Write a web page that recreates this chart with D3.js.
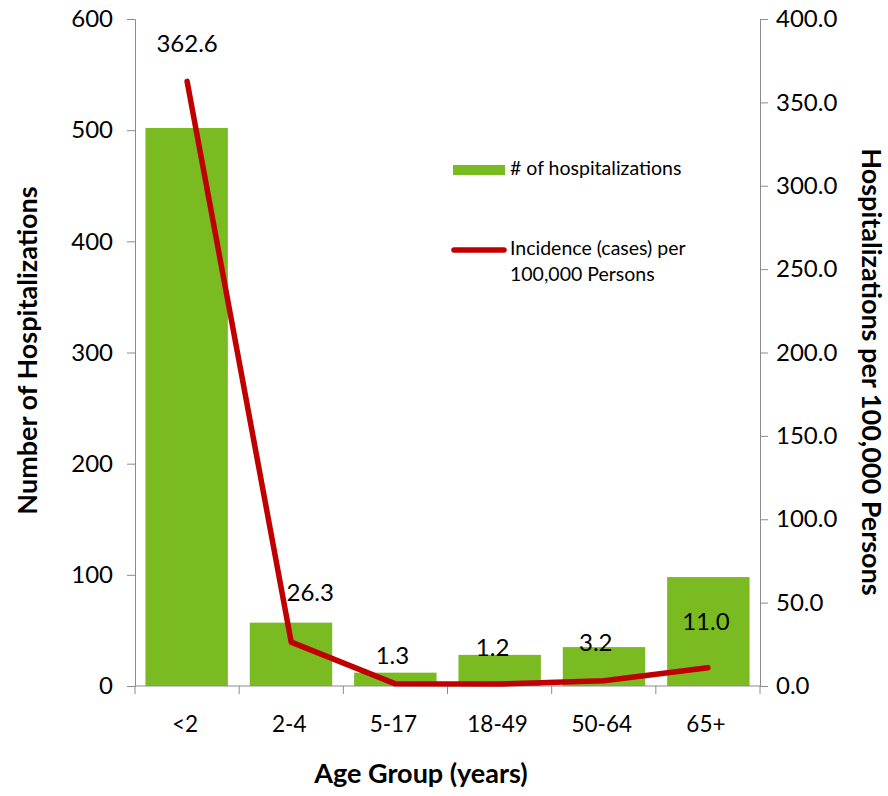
<!DOCTYPE html>
<html lang="en">
<head>
<meta charset="UTF-8">
<title>Hospitalizations by Age Group</title>
<script src="https://d3js.org/d3.v7.min.js"></script>
<style>
    body { margin: 0; background: #fff; font-family: Lato, "Open Sans", sans-serif; }
    .tick text { font-family: Lato, sans-serif; font-size: 24px; fill: #000; }
    .axis path, .axis line { stroke: #8c8c8c; }
    .title { font-family: Lato, sans-serif; font-weight: bold; font-size: 27px; }
    .lbl { font-family: Lato, sans-serif; font-size: 24px; }
    .cat { font-family: Lato, sans-serif; font-size: 22.5px; }
    .legend text { font-family: Lato, sans-serif; font-size: 19.5px; }
</style>
</head>
<body>
<div id="chart"></div>
<script>
    const ageGroups = ["<2", "2-4", "5-17", "18-49", "50-64", "65+"];
    const hospitalizations = [502, 57, 12, 28, 35, 98];
    const incidence = [362.6, 26.3, 1.3, 1.2, 3.2, 11.0];
    const leftTicks = [0, 100, 200, 300, 400, 500, 600];
    const rightTicks = [0, 50, 100, 150, 200, 250, 300, 350, 400];

    // where each value label sits relative to its line point (px)
    const labelNudge = [[0, -35], [19, -47], [-3, -26], [-7, -34], [-8, -36], [-2, -44]];

    const W = 888, H = 796;
    const margin = { top: 19, right: 128, bottom: 110, left: 135 };
    const width = W - margin.left - margin.right;
    const height = H - margin.top - margin.bottom;

    const svg = d3.select("#chart").append("svg")
        .attr("width", W).attr("height", H)
        .append("g")
        .attr("transform", `translate(${margin.left},${margin.top})`);

    const x = d3.scaleBand().domain(ageGroups).range([0, width]).paddingInner(0.21).paddingOuter(0.1);
    const xOuter = d3.scaleBand().domain(ageGroups).range([0, width]);
    const yL = d3.scaleLinear().domain([0, 600]).range([height, 0]);
    const yR = d3.scaleLinear().domain([0, 400]).range([height, 0]);

    // bars
    svg.selectAll("rect.bar")
        .data(ageGroups)
        .enter().append("rect")
        .attr("class", "bar")
        .attr("x", d => x(d))
        .attr("width", x.bandwidth())
        .attr("y", (d, i) => yL(hospitalizations[i]))
        .attr("height", (d, i) => height - yL(hospitalizations[i]))
        .attr("fill", "#7bbb22");

    // axes
    svg.append("g").attr("class", "axis")
        .call(d3.axisLeft(yL).tickValues(leftTicks).tickSize(8).tickSizeOuter(8).tickPadding(14));
    svg.append("g").attr("class", "axis")
        .attr("transform", `translate(${width},0)`)
        .call(d3.axisRight(yR).tickValues(rightTicks).tickFormat(d3.format(".1f")).tickSize(8).tickSizeOuter(8).tickPadding(8));

    const bottom = svg.append("g").attr("class", "axis")
        .attr("transform", `translate(0,${height})`);
    bottom.append("line").attr("x1", 0).attr("x2", width).attr("stroke", "#8c8c8c");
    bottom.selectAll("line.sep")
        .data(ageGroups.concat(["end"]))
        .enter().append("line")
        .attr("class", "sep")
        .attr("x1", (d, i) => i < ageGroups.length ? xOuter(d) : width)
        .attr("x2", (d, i) => i < ageGroups.length ? xOuter(d) : width)
        .attr("y1", 0).attr("y2", 8)
        .attr("stroke", "#8c8c8c");
    bottom.selectAll("text")
        .data(ageGroups)
        .enter().append("text")
        .attr("class", "cat")
        .attr("x", d => xOuter(d) + xOuter.bandwidth() / 2 - 2)
        .attr("y", 46)
        .attr("text-anchor", "middle")
        .text(d => d);

    // line
    const pts = ageGroups.map((d, i) => [xOuter(d) + xOuter.bandwidth() / 2, yR(incidence[i])]);
    svg.append("path")
        .datum(pts)
        .attr("d", d3.line())
        .attr("fill", "none")
        .attr("stroke", "#c00000")
        .attr("stroke-width", 5.5)
        .attr("stroke-linecap", "round")
        .attr("stroke-linejoin", "round");

    svg.selectAll("text.val")
        .data(incidence)
        .enter().append("text")
        .attr("class", "lbl val")
        .attr("x", (d, i) => pts[i][0] + labelNudge[i][0])
        .attr("y", (d, i) => pts[i][1] + labelNudge[i][1])
        .attr("text-anchor", "middle")
        .attr("dominant-baseline", "middle")
        .text(d => d3.format(".1f")(d));

    // axis titles
    svg.append("text").attr("class", "title")
        .attr("transform", `translate(${30 - margin.left},${height / 2 - 2}) rotate(-90)`)
        .attr("text-anchor", "middle").attr("dominant-baseline", "middle")
        .text("Number of Hospitalizations");
    svg.append("text").attr("class", "title")
        .attr("transform", `translate(${width + 109},${353}) rotate(90)`)
        .attr("text-anchor", "middle").attr("dominant-baseline", "middle")
        .text("Hospitalizations per 100,000 Persons");
    svg.append("text").attr("class", "title")
        .attr("x", 421 - margin.left)
        .attr("y", height + 97)
        .attr("text-anchor", "middle")
        .text("Age Group (years)");

    // legend
    const lg = svg.append("g").attr("class", "legend")
        .attr("transform", `translate(${452 - margin.left},${170 - margin.top})`);
    lg.append("rect").attr("x", 1).attr("y", -5).attr("width", 52).attr("height", 10).attr("fill", "#7bbb22");
    lg.append("text").attr("x", 58).attr("y", 0).attr("dominant-baseline", "middle").text("# of hospitalizations");
    lg.append("line").attr("x1", 2).attr("x2", 52).attr("y1", 80).attr("y2", 80)
        .attr("stroke", "#c00000").attr("stroke-width", 5.5).attr("stroke-linecap", "round");
    lg.append("text").attr("x", 58).attr("y", 80).attr("dominant-baseline", "middle").text("Incidence (cases) per");
    lg.append("text").attr("x", 58).attr("y", 106).attr("dominant-baseline", "middle").text("100,000 Persons");
</script>
</body>
</html>
